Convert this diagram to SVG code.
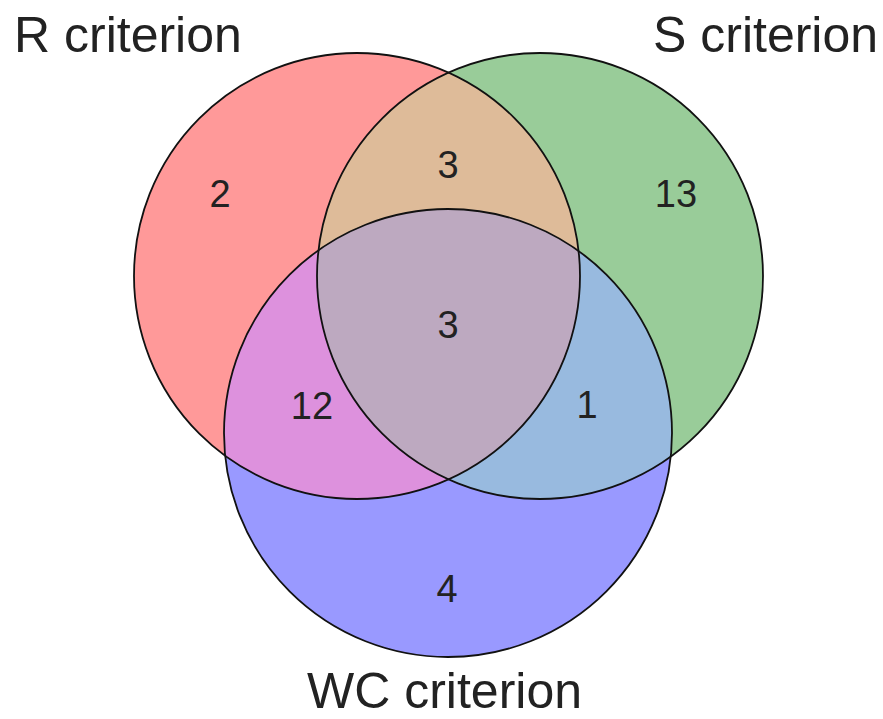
<svg xmlns="http://www.w3.org/2000/svg" width="883" height="719" viewBox="0 0 883 719">
  <style>
    .lbl { font-family: "Liberation Sans", Arial, sans-serif; font-size: 50px; fill: #222222; }
    .num { font-family: "Liberation Sans", Arial, sans-serif; font-size: 38px; fill: #222222; text-anchor: middle; }
    .edge { fill: none; stroke: #111111; stroke-width: 1.8; }
  </style>
  <rect width="883" height="719" fill="#ffffff"/>
  <g id="fills">
    <circle id="fill-R" cx="357" cy="276" r="223" fill="#FF9999"/>
    <circle id="fill-S" cx="540" cy="276" r="223" fill="#99CC99"/>
    <circle id="fill-WC" cx="448" cy="433" r="224" fill="#9999FF"/>
    <path id="fill-RS" d="M448.5,72.6 A223,223 0 0 0 448.5,479.4 A223,223 0 0 0 448.5,72.6 Z" fill="#DEBB99"/>
    <path id="fill-RWC" d="M578.6,251.0 A224,224 0 0 0 225.2,455.8 A223,223 0 0 0 578.6,251.0 Z" fill="#DD91DD"/>
    <path id="fill-SWC" d="M318.5,250.2 A224,224 0 0 1 670.7,456.6 A223,223 0 0 1 318.5,250.2 Z" fill="#98BADF"/>
    <path id="fill-RSWC" d="M318.5,250.2 A224,224 0 0 1 578.6,251.0 A223,223 0 0 1 448.5,479.4 A223,223 0 0 1 318.5,250.2 Z" fill="#BDA9C0"/>
  </g>
  <g id="outlines">
    <circle id="set-R" class="edge" cx="357" cy="276" r="223"/>
    <circle id="set-S" class="edge" cx="540" cy="276" r="223"/>
    <circle id="set-WC" class="edge" cx="448" cy="433" r="224"/>
  </g>
  <g id="labels">
    <text id="label-R" class="lbl" x="14" y="52">R criterion</text>
    <text id="label-S" class="lbl" x="653" y="52">S criterion</text>
    <text id="label-WC" class="lbl" x="307" y="708">WC criterion</text>
  </g>
  <g id="counts">
    <text class="num" x="220" y="207">2</text>
    <text class="num" x="448" y="178">3</text>
    <text class="num" x="676" y="207">13</text>
    <text class="num" x="448" y="338">3</text>
    <text class="num" x="312" y="419">12</text>
    <text class="num" x="587" y="418">1</text>
    <text class="num" x="447" y="602">4</text>
  </g>
</svg>
